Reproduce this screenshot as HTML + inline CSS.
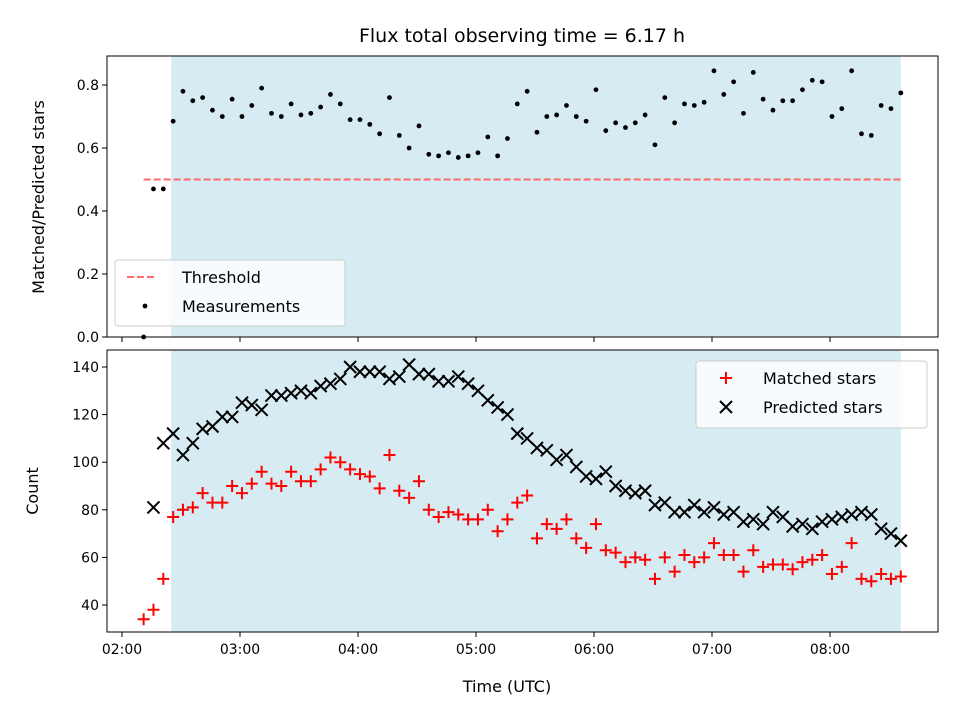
<!DOCTYPE html>
<html><head><meta charset="utf-8"><style>
body{margin:0;background:#fff;}
svg text{font-family:"DejaVu Sans","Liberation Sans",sans-serif;fill:#000;}
</style></head><body>
<svg id="c" width="960" height="720" xmlns="http://www.w3.org/2000/svg">
<text x="522" y="42" font-size="19" text-anchor="middle">Flux total observing time = 6.17 h</text>
<g id="top"></g>
<g id="bot"></g>
<text x="507" y="692" font-size="16" text-anchor="middle">Time (UTC)</text>
<text transform="translate(44,197) rotate(-90)" font-size="16" text-anchor="middle">Matched/Predicted stars</text>
<text transform="translate(38,491) rotate(-90)" font-size="16" text-anchor="middle">Count</text>
</svg>
<script>
const startTime = "02:11";
const stepMinutes = 5;
const matched = [34,38,51,77,80,81,87,83,83,90,87,91,96,91,90,96,92,92,97,102,100,97,95,94,89,103,88,85,92,80,77,79,78,76,76,80,71,76,83,86,68,74,72,76,68,64,74,63,62,58,60,59,51,60,54,61,58,60,66,61,61,54,63,56,57,57,55,58,59,61,53,56,66,51,50,53,51,52];
const predicted = [null,81,108,112,103,108,114,115,119,119,125,124,122,128,128,129,130,129,132,133,135,140,138,138,138,135,136,141,137,137,134,134,136,133,130,126,123,120,112,110,106,105,101,103,98,94,93,96,90,88,87,88,82,83,79,79,82,79,81,78,79,75,76,74,79,77,73,74,72,75,76,77,78,79,78,72,70,67];
const ratio = [0.0,0.47,0.47,0.685,0.78,0.75,0.76,0.72,0.70,0.755,0.70,0.735,0.79,0.71,0.70,0.74,0.705,0.71,0.73,0.77,0.74,0.69,0.69,0.675,0.645,0.76,0.64,0.60,0.67,0.58,0.575,0.585,0.57,0.575,0.585,0.635,0.575,0.63,0.74,0.78,0.65,0.70,0.705,0.735,0.70,0.685,0.785,0.655,0.68,0.665,0.68,0.705,0.61,0.76,0.68,0.74,0.735,0.745,0.845,0.77,0.81,0.71,0.84,0.755,0.72,0.75,0.75,0.785,0.815,0.81,0.70,0.725,0.845,0.645,0.64,0.735,0.725,0.775];
const threshold = 0.5;
const shadeStart = "02:25", shadeEnd = "08:36";
const xTicks = ["02:00","03:00","04:00","05:00","06:00","07:00","08:00"];
const ratioTicks = [0.0,0.2,0.4,0.6,0.8];
const countTicks = [40,60,80,100,120,140];

const NS="http://www.w3.org/2000/svg";
function mk(tag,attrs,parent){const e=document.createElementNS(NS,tag);for(const k in attrs)e.setAttribute(k,attrs[k]);parent.appendChild(e);return e;}
function toMin(s){const p=s.split(":");return +p[0]*60+ +p[1];}
const AL=107,AR=938;
function xs(min){return 122+(min-120)*118/60;}
const T1=56,B1=337, T2=350,B2=632;
function yr(v){return 337-v*315;}
function yc(v){return 605-(v-40)*2.38;}
const t0=toMin(startTime);
const times=matched.map((_,i)=>t0+i*stepMinutes);
const topG=document.getElementById('top'), botG=document.getElementById('bot');

function panel(g,T,B,yfun,ticks,fmt,showX){
  const sh=mk('rect',{x:xs(toMin(shadeStart)),y:T,width:xs(toMin(shadeEnd))-xs(toMin(shadeStart)),height:B-T,fill:'#add8e6','fill-opacity':0.5},g);
  
  
  ticks.forEach(v=>{
    const y=yfun(v);
    const l=mk('line',{x1:AL-5,x2:AL,y1:y,y2:y,stroke:'#000','stroke-width':1},g);
    
    
    const t=mk('text',{x:AL-8,y:y+5,'font-size':14,'text-anchor':'end'},g);
    t.textContent=fmt(v);
    
    
  });
  xTicks.forEach(s=>{
    const x=xs(toMin(s));
    const l=mk('line',{x1:x,x2:x,y1:B,y2:B+5,stroke:'#000','stroke-width':1},g);
    
    
    if(showX){const t=mk('text',{x:x,y:B+22,'font-size':14,'text-anchor':'middle'},g);t.textContent=s;
      
      }
  });
}
panel(topG,T1,B1,yr,ratioTicks,v=>v.toFixed(1),false);
panel(botG,T2,B2,yc,countTicks,v=>String(v),true);

const th=mk('line',{x1:xs(times[0]),x2:xs(times[times.length-1]),y1:yr(threshold),y2:yr(threshold),stroke:'#ff6b6b','stroke-width':2,'stroke-dasharray':'7,3'},topG);


ratio.forEach((v,i)=>{
  const c=mk('circle',{cx:xs(times[i]),cy:yr(v),r:2.4,fill:'#000'},topG);
  
  
});
matched.forEach((v,i)=>{
  const x=xs(times[i]),y=yc(v);
  const p=mk('path',{d:`M${x-6},${y}H${x+6}M${x},${y-6}V${y+6}`,stroke:'#f00','stroke-width':2,fill:'none'},botG);
  
  
});
predicted.forEach((v,i)=>{
  if(v===null)return;
  const x=xs(times[i]),y=yc(v);
  const p=mk('path',{d:`M${x-6},${y-6}L${x+6},${y+6}M${x-6},${y+6}L${x+6},${y-6}`,stroke:'#000','stroke-width':2,fill:'none'},botG);
  
  
});
[[topG,T1,B1],[botG,T2,B2]].forEach(([g,T,B])=>{
  const f=mk('rect',{x:AL,y:T,width:AR-AL,height:B-T,fill:'none',stroke:'#000','stroke-width':1},g);
  
  
});
function legend(g,x,y,w,h,items,name){
  const lg=mk('g',{},g);
  
  
  mk('rect',{x:x,y:y,width:w,height:h,rx:3,fill:'#fff','fill-opacity':0.8,stroke:'#ccc'},lg);
  items.forEach((it,i)=>{
    const cy=y+17+i*29;
    it.draw(lg,x+30,cy);
    const t=mk('text',{x:x+67,y:cy+6,'font-size':16},lg);
    t.textContent=it.label;
    
    
  });
}
legend(topG,115,260,230,66,[
  {label:'Threshold',draw:(g,cx,cy)=>mk('line',{x1:cx-18,x2:cx+12,y1:cy,y2:cy,stroke:'#ff6b6b','stroke-width':2,'stroke-dasharray':'7,3'},g)},
  {label:'Measurements',draw:(g,cx,cy)=>mk('circle',{cx:cx,cy:cy,r:2.4,fill:'#000'},g)}
],'ratio-legend');
legend(botG,696,361,231,67,[
  {label:'Matched stars',draw:(g,cx,cy)=>mk('path',{d:`M${cx-6},${cy}H${cx+6}M${cx},${cy-6}V${cy+6}`,stroke:'#f00','stroke-width':2},g)},
  {label:'Predicted stars',draw:(g,cx,cy)=>mk('path',{d:`M${cx-6},${cy-6}L${cx+6},${cy+6}M${cx-6},${cy+6}L${cx+6},${cy-6}`,stroke:'#000','stroke-width':2},g)}
],'count-legend');
</script>
</body></html>
